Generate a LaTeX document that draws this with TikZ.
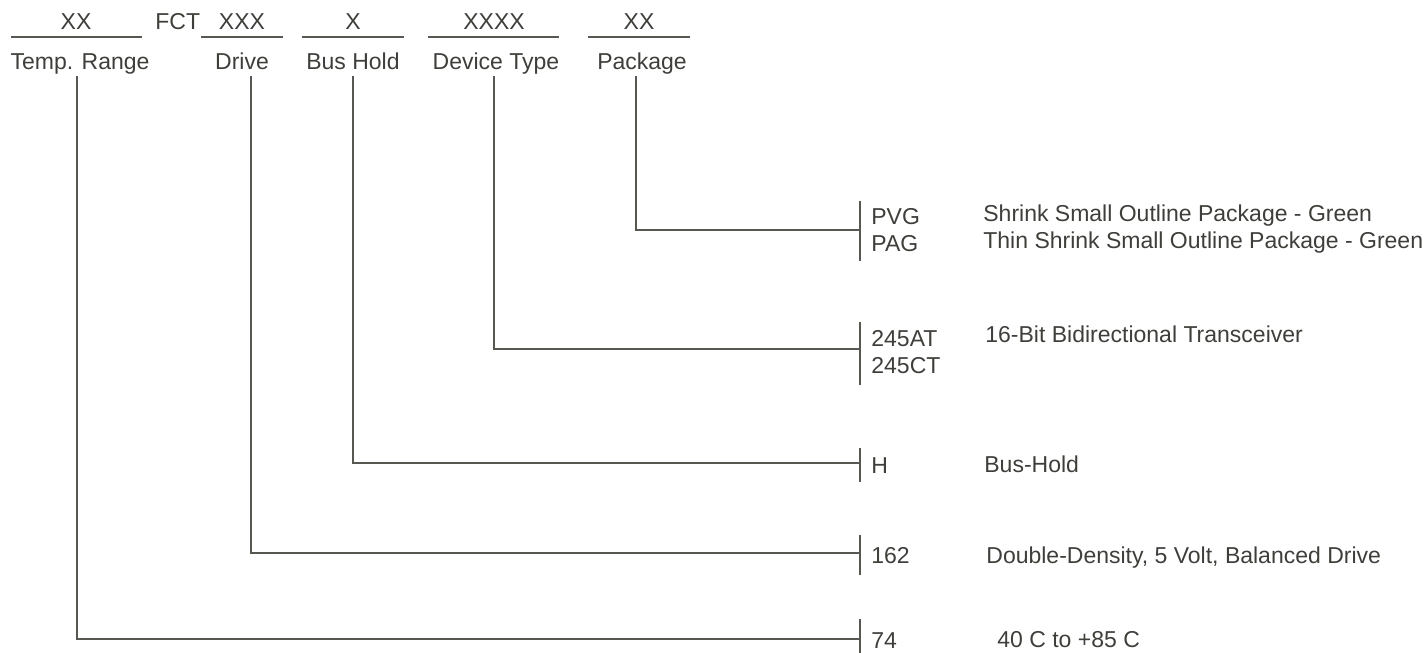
\documentclass[tikz,border=0pt]{standalone}
\usepackage{fontspec}
\setmainfont{Liberation Sans}
\usetikzlibrary{positioning}
\definecolor{ink}{RGB}{62,62,58}
\definecolor{rule}{RGB}{88,88,82}
\tikzset{
  fld/.style={font=\fontsize{11.5}{13.5}\selectfont, text=ink, inner sep=0pt, anchor=base},
  code/.style={fld, anchor=base west},
  desc/.style={fld, anchor=base west},
  ln/.style={draw=rule, line width=0.75pt},
}

\begin{document}
\begin{tikzpicture}[x=0.5pt, y=-0.5pt]
  \useasboundingbox (0,0) rectangle (1426,653);
  % part number fields
  \node[fld](fxx) at (76,29){XX};
  \node[code](fct) at (155,29){FCT};
  \node[fld](fxxx) at (242,29){XXX};
  \node[fld](fx) at (353,29){X};
  \node[fld](fxxxx) at (494,29){XXXX};
  \node[fld](fpk) at (639,29){XX};
  \draw[ln](11,37)--(142,37); \draw[ln](201,37)--(283,37);
  \draw[ln](302,37)--(404,37); \draw[ln](428,37)--(559,37);
  \draw[ln](588,37)--(690,37);
  \node[fld](ltemp) at (80,69){Temp. Range};
  \node[fld](ldrive) at (242,69){Drive};
  \node[fld](lhold) at (353,69){Bus Hold};
  \node[fld](ldev) at (496,69){Device Type};
  \node[fld](lpkg) at (642,69){Package};
  % tops of the leader lines
  \coordinate (ttemp) at (77,76);
  \coordinate (tdrive) at (251,76);
  \coordinate (thold) at (353,76);
  \coordinate (tdev) at (494,76);
  \coordinate (tpkg) at (636,76);
  % joints on the brackets
  \coordinate (jpkg) at (860,230);
  \coordinate (jdev) at (860,349);
  \coordinate (jhold) at (860,463);
  \coordinate (jdrive) at (860,553);
  \coordinate (jtemp) at (860,639);
  \foreach \a/\b in {201/261, 322/385, 448/482, 535/575, 619/653}
    \draw[ln](860,\a)--(860,\b);
  \draw[ln](tpkg) |- (jpkg);
  \draw[ln](tdev) |- (jdev);
  \draw[ln](thold) |- (jhold);
  \draw[ln](tdrive) |- (jdrive);
  \draw[ln](ttemp) |- (jtemp);
  % options
  \node[code](cpvg) at (871,224){PVG};
  \node[code](cpag) at (871,251){PAG};
  \node[desc](dpvg) at (983,221){Shrink Small Outline Package - Green};
  \node[desc](dpag) at (983,248){Thin Shrink Small Outline Package - Green};
  \node[code](cat) at (871,346){245AT};
  \node[code](cct) at (871,373){245CT};
  \node[desc](dat) at (985,342){16-Bit Bidirectional Transceiver};
  \node[code](ch) at (871,473){H};
  \node[desc](dh) at (984,472){Bus-Hold};
  \node[code](c162) at (871,563){162};
  \node[desc](d162) at (986,563){Double-Density, 5 Volt, Balanced Drive};
  \node[code](c74) at (871,648){74};
  \node[desc](d74) at (997,647){40 C to +85 C};
\end{tikzpicture}
\end{document}
